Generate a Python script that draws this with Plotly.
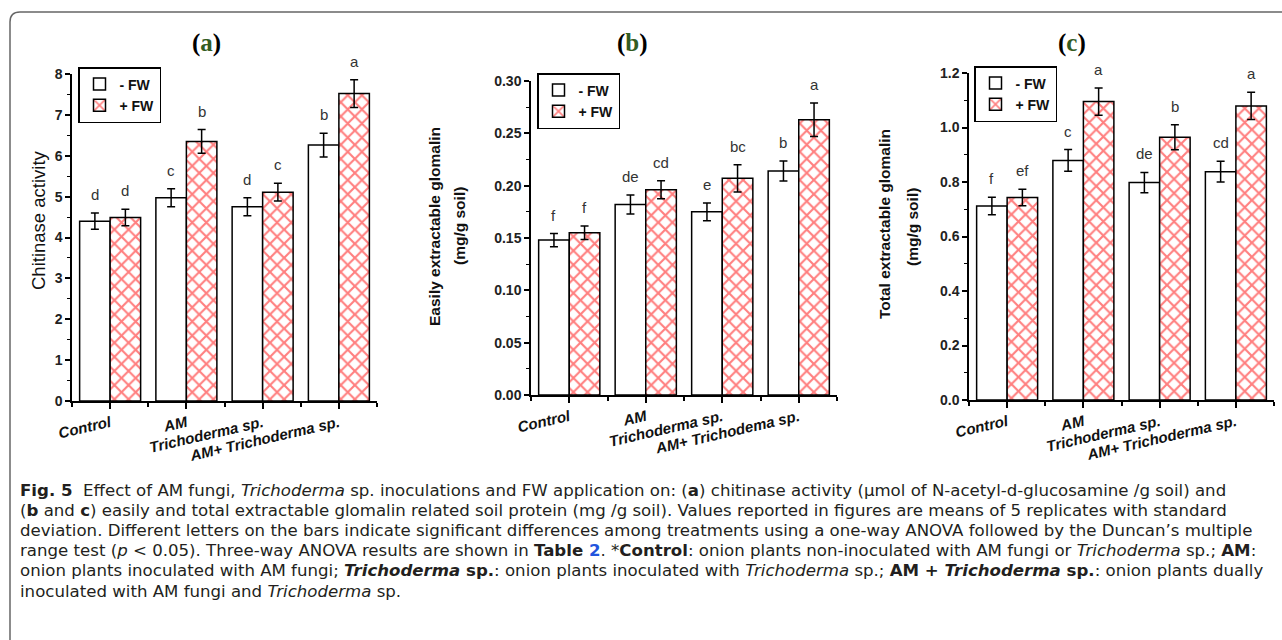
import plotly.graph_objects as go

W, H = 1282, 640

# ---------------- data ----------------
x_idx = [0, 1, 2, 3]
labels_a = ["Control", "AM", "Trichoderma sp.", "AM+ Trichoderma sp."]
labels_b = ["Control", "AM", "Trichoderma sp.", "AM+ Trichodema sp."]
labels_c = ["Control", "AM", "Trichoderma sp.", "AM+ Trichoderma sp."]
series_names = ["- FW", "+ FW"]

chitinase_minus = [4.40, 4.97, 4.75, 6.26]
chitinase_minus_sd = [0.20, 0.22, 0.22, 0.29]
chitinase_plus = [4.49, 6.35, 5.11, 7.52]
chitinase_plus_sd = [0.20, 0.29, 0.22, 0.34]
letters_a_minus = ["d", "c", "d", "b"]
letters_a_plus = ["d", "b", "c", "a"]

eegrsp_minus = [0.148, 0.182, 0.175, 0.214]
eegrsp_minus_sd = [0.0063, 0.0090, 0.0085, 0.0096]
eegrsp_plus = [0.155, 0.196, 0.207, 0.263]
eegrsp_plus_sd = [0.0064, 0.0086, 0.0130, 0.0160]
letters_b_minus = ["f", "de", "e", "b"]
letters_b_plus = ["f", "cd", "bc", "a"]

tegrsp_minus = [0.712, 0.879, 0.798, 0.838]
tegrsp_minus_sd = [0.032, 0.040, 0.037, 0.038]
tegrsp_plus = [0.743, 1.095, 0.964, 1.079]
tegrsp_plus_sd = [0.030, 0.050, 0.046, 0.050]
letters_c_minus = ["f", "c", "de", "cd"]
letters_c_plus = ["ef", "a", "b", "a"]

# ---------------- layout helpers ----------------
def px_dom_x(x0, x1):
    return [x0 / W, x1 / W]

def px_dom_y(y0, y1):
    return [1 - y1 / H, 1 - y0 / H]

def px(x):
    return x / W

def py(y):
    return 1 - y / H

BAR_W = 0.4
RED = "#ff0000"

panels = [
    dict(ax="", minus=chitinase_minus, msd=chitinase_minus_sd, plus=chitinase_plus, psd=chitinase_plus_sd,
         lm=letters_a_minus, lp=letters_a_plus, labels=labels_a, legend="legend",
         xd=(72, 377), yd=(74, 401), yr=[0, 8], dtick=1, minor=0.5, fmt="d"),
    dict(ax="2", minus=eegrsp_minus, msd=eegrsp_minus_sd, plus=eegrsp_plus, psd=eegrsp_plus_sd,
         lm=letters_b_minus, lp=letters_b_plus, labels=labels_b, legend="legend2",
         xd=(531, 837), yd=(81, 395), yr=[0, 0.30], dtick=0.05, minor=0.025, fmt=".2f"),
    dict(ax="3", minus=tegrsp_minus, msd=tegrsp_minus_sd, plus=tegrsp_plus, psd=tegrsp_plus_sd,
         lm=letters_c_minus, lp=letters_c_plus, labels=labels_c, legend="legend3",
         xd=(969, 1274), yd=(73, 400), yr=[0, 1.2], dtick=0.2, minor=0.1, fmt=".1f"),
]

fig = go.Figure()
annotations = []

for p in panels:
    xa = "x" + p["ax"]
    ya = "y" + p["ax"]
    fig.add_trace(go.Bar(
        x=x_idx, y=p["minus"], width=BAR_W, offset=-BAR_W, name=series_names[0],
        xaxis=xa, yaxis=ya, legend=p["legend"],
        marker=dict(color="white", line=dict(color="black", width=1.5)),
        error_y=dict(type="data", array=p["msd"], color="black", thickness=1.5, width=4),
    ))
    fig.add_trace(go.Bar(
        x=x_idx, y=p["plus"], width=BAR_W, offset=0, name=series_names[1],
        xaxis=xa, yaxis=ya, legend=p["legend"],
        marker=dict(color="white", line=dict(color="black", width=1.5),
                    pattern=dict(shape="x", fgcolor=RED, bgcolor="white", size=10, solidity=0.38)),
        error_y=dict(type="data", array=p["psd"], color="black", thickness=1.5, width=4),
    ))
    for i in x_idx:
        annotations.append(dict(x=i - BAR_W / 2, y=p["minus"][i] + p["msd"][i], xref=xa, yref=ya,
                                text=p["lm"][i], showarrow=False, yanchor="bottom", yshift=8,
                                font=dict(family="Arial", size=15, color="#333333")))
        annotations.append(dict(x=i + BAR_W / 2, y=p["plus"][i] + p["psd"][i], xref=xa, yref=ya,
                                text=p["lp"][i], showarrow=False, yanchor="bottom", yshift=8,
                                font=dict(family="Arial", size=15, color="#333333")))

    axis_common = dict(showline=True, linecolor="black", linewidth=1.5, ticks="outside",
                       tickwidth=1.5, tickcolor="black", showgrid=False, zeroline=False)
    fig.update_layout(**{
        "xaxis" + p["ax"]: dict(
            domain=px_dom_x(*p["xd"]), anchor=ya, range=[-0.5, 3.5],
            tickvals=x_idx, ticktext=["<b><i>%s</i></b>" % t for t in p["labels"]],
            tickangle=-13, ticklen=6,
            tickfont=dict(family="Arial", size=15, color="#111111"),
            minor=dict(tickvals=[-0.5, 0.5, 1.5, 2.5, 3.5], ticks="outside", ticklen=4,
                       tickwidth=1.5, tickcolor="black"),
            **axis_common),
        "yaxis" + p["ax"]: dict(
            domain=px_dom_y(*p["yd"]), anchor=xa, range=p["yr"], dtick=p["dtick"], tick0=0,
            tickformat=p["fmt"], ticklen=5,
            tickfont=dict(family="Arial", size=14, color="#222222", weight="bold"),
            minor=dict(dtick=p["minor"], tick0=0, ticks="outside", ticklen=3, tickwidth=1.2,
                       tickcolor="black"),
            **axis_common),
    })

legend_style = dict(bgcolor="white", bordercolor="black", borderwidth=1.5,
                    font=dict(family="Arial", size=14, color="#111111", weight="bold"),
                    xanchor="left", yanchor="top", itemwidth=30, tracegroupgap=0,
                    traceorder="normal")
fig.update_layout(
    legend=dict(x=px(78), y=py(67), **legend_style),
    legend2=dict(x=px(537), y=py(73), **legend_style),
    legend3=dict(x=px(974), y=py(66), **legend_style),
)

# panel titles
for letter, cx in [("a", 206), ("b", 632), ("c", 1072)]:
    annotations.append(dict(x=px(cx), y=py(43), xref="paper", yref="paper", showarrow=False,
                            xanchor="center", yanchor="middle",
                            text="<b>(<span style='color:#335c1f'>%s</span>)</b>" % letter,
                            font=dict(family="Liberation Serif", size=25, color="black")))

# y-axis titles
ytitles = [
    ("Chitinase activity", 38, 220, "normal", 18.5),
    ("Easily extractable glomalin", 434, 226, "bold", 15.5),
    ("(mg/g soil)", 459, 226, "bold", 15.5),
    ("Total extractable glomalin", 884, 224, "bold", 15.5),
    ("(mg/g soil)", 912, 227, "bold", 15.5),
]
for t, cx, cy, wt, fs in ytitles:
    annotations.append(dict(x=px(cx), y=py(cy), xref="paper", yref="paper", showarrow=False,
                            xanchor="center", yanchor="middle", textangle=-90, text=t,
                            font=dict(family="Arial", size=fs, color="#111111", weight=wt)))

# caption
caption_lines = [
    "<b>Fig. 5</b>  Effect of AM fungi, <i>Trichoderma</i> sp. inoculations and FW application on: (<b>a</b>) chitinase activity (µmol of N-acetyl-d-glucosamine /g soil) and",
    "(<b>b</b> and <b>c</b>) easily and total extractable glomalin related soil protein (mg /g soil). Values reported in figures are means of 5 replicates with standard",
    "deviation. Different letters on the bars indicate significant differences among treatments using a one-way ANOVA followed by the Duncan’s multiple",
    "range test (<i>p</i> &lt; 0.05). Three-way ANOVA results are shown in <b>Table <span style='color:#2255dd'>2</span></b>. *<b>Control</b>: onion plants non-inoculated with AM fungi or <i>Trichoderma</i> sp.; <b>AM</b>:",
    "onion plants inoculated with AM fungi; <b><i>Trichoderma</i> sp.</b>: onion plants inoculated with <i>Trichoderma</i> sp.; <b>AM + <i>Trichoderma</i> sp.</b>: onion plants dually",
    "inoculated with AM fungi and <i>Trichoderma</i> sp.",
]
caption_y = [490, 510.2, 530.4, 550.6, 570.8, 591]
for t, cy in zip(caption_lines, caption_y):
    annotations.append(dict(x=px(19), y=py(cy), xref="paper", yref="paper", showarrow=False,
                            xanchor="left", yanchor="middle", text=t, align="left", borderpad=0,
                            font=dict(family="DejaVu Sans", size=16.6, color="#231f20")))

# rounded frame
r = 10
x0, y0 = 10, 12
frame_path = "M %f,%f L %f,%f Q %f,%f %f,%f L %f,%f" % (
    px(x0), py(H + 5), px(x0), py(y0 + r), px(x0), py(y0), px(x0 + r), py(y0), px(W + 5), py(y0))

fig.update_layout(
    width=W, height=H, margin=dict(l=0, r=0, t=0, b=0, autoexpand=False),
    paper_bgcolor="white", plot_bgcolor="white", barmode="overlay",
    annotations=annotations,
    shapes=[dict(type="path", path=frame_path, xref="paper", yref="paper",
                 line=dict(color="#666666", width=1.5))],
)

fig.write_html("out.html")
